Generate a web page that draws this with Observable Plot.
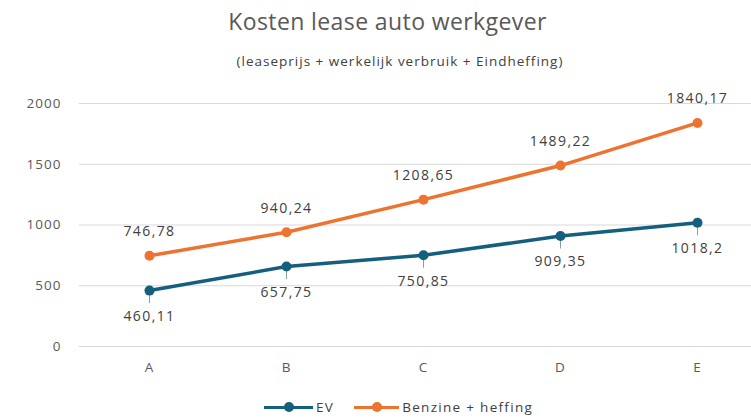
<!DOCTYPE html>
<html><head><meta charset="utf-8">
<script src="https://cdn.jsdelivr.net/npm/d3@7"></script>
<script src="https://cdn.jsdelivr.net/npm/@observablehq/plot@0.6"></script>
<style>
body{margin:0;background:#fff;font-family:"Open Sans","Noto Sans",sans-serif;}
#wrap{position:relative;width:751px;height:418px;overflow:hidden;}
#title{position:absolute;left:0;width:775px;top:5px;text-align:center;font-size:23px;color:#595959;letter-spacing:0.4px;}
#sub{position:absolute;left:0;width:800px;top:52px;text-align:center;font-size:13.5px;color:#404040;letter-spacing:1px;}
#legend{position:absolute;top:398px;left:264px;font-size:13.5px;letter-spacing:1.3px;color:#404040;display:flex;align-items:center;}
.sw{display:inline-block;position:relative;width:49px;height:10px;margin-right:3px;}
.sw i{position:absolute;left:0;right:0;top:3.5px;height:3.5px;}
.sw b{position:absolute;left:20px;top:0;width:10px;height:10px;border-radius:50%;}
#chart{position:absolute;left:0;top:0;}
#chart svg text{letter-spacing:1px;}
#chart svg g.lbl text{letter-spacing:1.4px;}
</style></head>
<body><div id="wrap">
<div id="chart"></div>
<div id="title">Kosten lease auto werkgever</div>
<div id="sub">(leaseprijs + werkelijk verbruik + Eindheffing)</div>
<div id="legend">
<span class="sw"><i style="background:#155f7e"></i><b style="background:#155f7e"></b></span><span style="margin-right:20px">EV</span>
<span class="sw" style="width:45px"><i style="background:#ec7330"></i><b style="background:#ec7330;left:18px"></b></span><span>Benzine + heffing</span>
</div>
</div>
<script>
const categories = ["A","B","C","D","E"];
const evValues = [460.11, 657.75, 750.85, 909.35, 1018.2];
const benzineValues = [746.78, 940.24, 1208.65, 1489.22, 1840.17];
const yTicks = [0, 500, 1000, 1500, 2000];
const seriesNames = ["EV", "Benzine + heffing"];
const seriesColors = ["#155f7e", "#ec7330"];

const data = [];
categories.forEach((c, i) => {
  data.push({cat: c, value: evValues[i], series: seriesNames[0]});
  data.push({cat: c, value: benzineValues[i], series: seriesNames[1]});
});
const fmt = v => String(v).replace(".", ",");
const ev = data.filter(d => d.series === seriesNames[0]);
const bz = data.filter(d => d.series === seriesNames[1]);

const chart = Plot.plot({
  width: 751, height: 418,
  marginTop: 103, marginBottom: 72, marginLeft: 79, marginRight: 0,
  style: {fontFamily: '"Open Sans","Noto Sans",sans-serif', fontSize: "13.5px", color: "#595959", background: "transparent"},
  x: {type: "point", domain: categories, range: [148, 697], padding: 0, label: null},
  y: {domain: [0, 2000], label: null},
  color: {domain: seriesNames, range: seriesColors},
  marks: [
    Plot.ruleY(yTicks, {stroke: "#d9d9d9", strokeWidth: 1}),
    Plot.axisY({ticks: yTicks, tickFormat: d => String(d), tickSize: 0, tickPadding: 18, label: null, fill: "#595959", fontSize: 13.5}),
    Plot.axisX({tickSize: 0, tickPadding: 16, label: null, fill: "#595959", fontSize: 13.5}),
    Plot.ruleX(ev, {x: "cat", y1: "value", y2: "value", insetTop: 2, insetBottom: -13, stroke: "#8c9ea8", strokeWidth: 1}),
    Plot.line(data, {x: "cat", y: "value", z: "series", stroke: "series", strokeWidth: 3.5}),
    Plot.dot(data, {x: "cat", y: "value", fill: "series", r: 5}),
    Plot.text(bz, {x: "cat", y: "value", text: d => fmt(d.value), dy: -24, fill: "#404040", fontSize: 14, className: "lbl"}),
    Plot.text(ev, {x: "cat", y: "value", text: d => fmt(d.value), dy: 26, fill: "#404040", fontSize: 14, className: "lbl"})
  ]
});
document.getElementById("chart").appendChild(chart);
</script>
</body></html>
